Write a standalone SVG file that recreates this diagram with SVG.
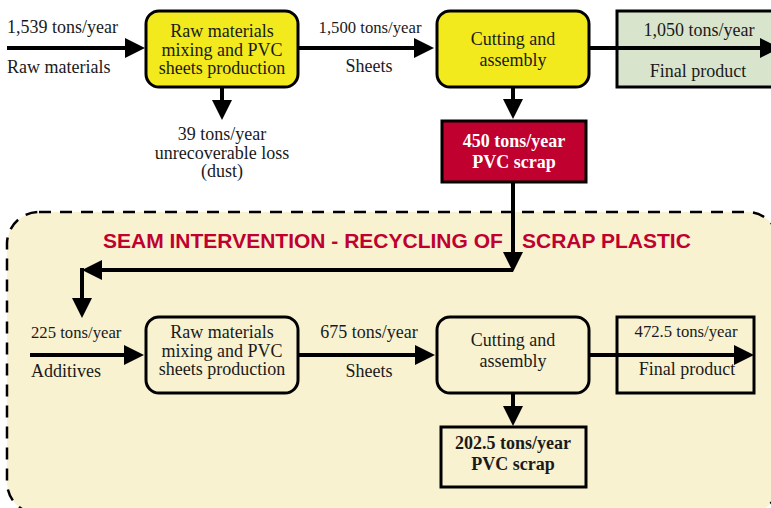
<svg xmlns="http://www.w3.org/2000/svg" width="771" height="508" viewBox="0 0 771 508">
<style>
.t{font-family:"Liberation Serif","Times New Roman",serif;font-size:18px;fill:#1a1a1a;text-anchor:middle}
.s{font-size:16.7px}
.l{text-anchor:start}
.b{font-weight:bold}
.w{fill:#ffffff}
.box{stroke:#000;stroke-width:3}
.ln{stroke:#000;stroke-width:4;fill:none}
.ah{fill:#000}
.title{font-family:"Liberation Sans",Arial,sans-serif;font-weight:bold;font-size:21px;fill:#c0002f}
</style>
<rect width="771" height="508" fill="#ffffff"/>
<g id="intervention">
<rect x="7" y="212" width="772" height="302" rx="32" fill="#f8f2d1" stroke="#000" stroke-width="2.5" stroke-dasharray="12 9"/>
<text class="title" x="103" y="248">SEAM INTERVENTION - RECYCLING OF</text>
<text class="title" x="522" y="248">SCRAP PLASTIC</text>
</g>
<g id="raw-materials-label">
<text class="t l" x="7" y="33">1,539 tons/year</text>
<text class="t l" x="7" y="73">Raw materials</text>
</g>
<g id="mixing-top">
<rect class="box" x="146" y="11" width="152" height="76" rx="13" fill="#f2ea1d"/>
<text class="t" x="222" y="37">Raw materials</text>
<text class="t" x="222" y="56">mixing and PVC</text>
<text class="t" x="222" y="74">sheets production</text>
</g>
<g id="dust-label">
<text class="t" x="222" y="140">39 tons/year</text>
<text class="t" x="222" y="159">unrecoverable loss</text>
<text class="t" x="222" y="177">(dust)</text>
</g>
<g id="sheets-top-label">
<text class="t s" x="370" y="33">1,500 tons/year</text>
<text class="t" x="369" y="72">Sheets</text>
</g>
<g id="cutting-top">
<rect class="box" x="437" y="11" width="152" height="76" rx="13" fill="#f2ea1d"/>
<text class="t" x="513" y="45">Cutting and</text>
<text class="t" x="513" y="66">assembly</text>
</g>
<g id="final-top">
<rect class="box" x="617" y="11" width="160" height="76" fill="#d9e4cc"/>
<text class="t" x="699" y="36">1,050 tons/year</text>
<text class="t" x="698" y="77">Final product</text>
</g>
<g id="scrap-top">
<rect class="box" x="442" y="121" width="144" height="61" fill="#c0002f"/>
<text class="t b w" x="514" y="147">450 tons/year</text>
<text class="t b w" x="514" y="168">PVC scrap</text>
</g>
<g id="additives-label">
<text class="t s l" x="31" y="338">225 tons/year</text>
<text class="t l" x="31" y="377">Additives</text>
</g>
<g id="mixing-bottom">
<rect class="box" x="146" y="317" width="152" height="76" rx="13" fill="none"/>
<text class="t" x="222" y="338">Raw materials</text>
<text class="t" x="222" y="357">mixing and PVC</text>
<text class="t" x="222" y="375">sheets production</text>
</g>
<g id="sheets-bottom-label">
<text class="t" x="369" y="338">675 tons/year</text>
<text class="t" x="369" y="377">Sheets</text>
</g>
<g id="cutting-bottom">
<rect class="box" x="437" y="317" width="152" height="76" rx="13" fill="none"/>
<text class="t" x="513" y="346">Cutting and</text>
<text class="t" x="513" y="367">assembly</text>
</g>
<g id="final-bottom">
<rect class="box" x="617" y="317" width="137" height="76" fill="none"/>
<text class="t s" x="686" y="337">472.5 tons/year</text>
<text class="t" x="687" y="375">Final product</text>
</g>
<g id="scrap-bottom">
<rect class="box" x="441" y="427" width="145" height="60" fill="none"/>
<text class="t b" x="513" y="449">202.5 tons/year</text>
<text class="t b" x="513" y="470">PVC scrap</text>
</g>
<g id="connectors">
<line class="ln" x1="7" y1="48" x2="127" y2="48"/>
<polygon class="ah" points="125,38 145,48 125,58"/>
<line class="ln" x1="298" y1="48" x2="416" y2="48"/>
<polygon class="ah" points="414,38 434,48 414,58"/>
<line class="ln" x1="589" y1="48" x2="765" y2="48"/>
<polygon class="ah" points="760,38 780,48 760,58"/>
<line class="ln" x1="222" y1="87" x2="222" y2="102"/>
<polygon class="ah" points="212,100 222,120 232,100"/>
<line class="ln" x1="513" y1="87" x2="513" y2="101"/>
<polygon class="ah" points="503,99 513,119 523,99"/>
<line class="ln" x1="513" y1="182" x2="513" y2="255"/>
<polygon class="ah" points="503,252 513,272 523,252"/>
<polyline class="ln" points="513,270 100,270"/>
<polygon class="ah" points="102,260 82,270 102,280"/>
<polyline class="ln" points="82,268 82,302"/>
<polygon class="ah" points="72,298 82,318 92,298"/>
<line class="ln" x1="30" y1="355" x2="127" y2="355"/>
<polygon class="ah" points="124,345 144,355 124,365"/>
<line class="ln" x1="298" y1="355" x2="418" y2="355"/>
<polygon class="ah" points="415,345 435,355 415,365"/>
<line class="ln" x1="589" y1="355" x2="737" y2="355"/>
<polygon class="ah" points="734,345 754,355 734,365"/>
<line class="ln" x1="513" y1="393" x2="513" y2="409"/>
<polygon class="ah" points="503,406 513,426 523,406"/>
</g>
</svg>
